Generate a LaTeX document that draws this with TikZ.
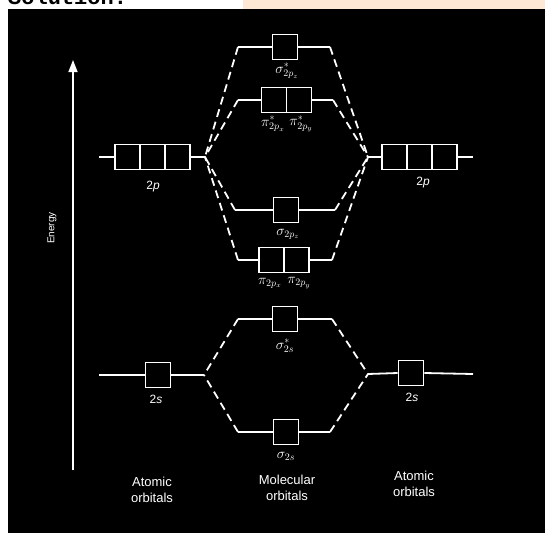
\documentclass[tikz,border=0pt]{standalone}
\usepackage{fontspec}
\setsansfont{Liberation Sans}
\newfontfamily\monob{Liberation Mono}
\usetikzlibrary{arrows.meta}
\definecolor{peach}{HTML}{FDE8D6}
\begin{document}
\begin{tikzpicture}[x=1pt,y=-1pt,
 lvl/.style={draw=white, line width=1.8pt},
 dsh/.style={draw=white, line width=1.8pt, dash pattern=on 8pt off 5pt},
 orb/.style={draw=white, line width=1.8pt, minimum width=25pt, minimum height=25pt, inner sep=0pt, fill=black},
 lab/.style={text=white, font=\fontsize{14}{16}\selectfont, inner sep=0pt},
 plab/.style={text=white, font=\sffamily\fontsize{12}{14}\selectfont, inner sep=0pt},
 big/.style={text=white, font=\sffamily\fontsize{13}{15.5}\selectfont, align=center, inner sep=0pt}]

\useasboundingbox (0,0) rectangle (545,533);
\fill[white] (0,0) rectangle (545,533);
\fill[peach] (243,0) rectangle (545,9);
\begin{scope}
\clip (0,0) rectangle (545,9);
\node[anchor=base west, text=black, font=\monob\bfseries\fontsize{22}{22}\selectfont, inner sep=0pt] (sol) at (8,4) {Solution:};
\end{scope}
\fill[black] (8,9) rectangle (545,533);

% Energy axis
\coordinate (ebot) at (73,470);
\coordinate (etop) at (73,60);
\draw[white, line width=1.6pt, -{Triangle[length=12pt,width=9pt]}] (ebot) -- (etop);
\node[text=white, font=\sffamily\fontsize{10}{12}\selectfont, rotate=90, inner sep=0pt] (energy) at (52,228) {Energy};

% Left 2p
\node[orb] (L2pa) at (127.5,157) {};
\node[orb] (L2pb) at (152.5,157) {};
\node[orb] (L2pc) at (177.5,157) {};
\coordinate (L2pw) at (99,157);
\coordinate (jL2p) at (205,157);
\draw[lvl] (L2pw) -- (L2pa.west);
\draw[lvl] (L2pc.east) -- (jL2p);
\node[plab] (t2pL) at (153,187) {2\textit{p}};

% Right 2p
\node[orb] (R2pa) at (394.5,157) {};
\node[orb] (R2pb) at (419.5,157) {};
\node[orb] (R2pc) at (444.5,157) {};
\coordinate (R2pe) at (473,157);
\coordinate (jR2p) at (368,157);
\draw[lvl] (jR2p) -- (R2pa.west);
\draw[lvl] (R2pc.east) -- (R2pe);
\node[plab] (t2pR) at (423,183) {2\textit{p}};

% sigma* 2pz
\node[orb] (sspz) at (285,47) {};
\coordinate (sspzL) at (238,47);
\coordinate (sspzR) at (330,47);
\draw[lvl] (sspzL) -- (sspz.west);
\draw[lvl] (sspz.east) -- (sspzR);
\node[lab] (tsspz) at (287,71) {$\sigma^{*}_{2p_z}$};

% pi* 2p
\node[orb] (pspx) at (274,100) {};
\node[orb] (pspy) at (299,100) {};
\coordinate (pspL) at (238,100);
\coordinate (pspR) at (333,100);
\draw[lvl] (pspL) -- (pspx.west);
\draw[lvl] (pspy.east) -- (pspR);
\node[lab] (tpspx) at (273,124) {$\pi^{*}_{2p_x}$};
\node[lab] (tpspy) at (301,124) {$\pi^{*}_{2p_y}$};

% sigma 2pz
\node[orb] (spz) at (286,210) {};
\coordinate (spzL) at (235,210);
\coordinate (spzR) at (335,210);
\draw[lvl] (spzL) -- (spz.west);
\draw[lvl] (spz.east) -- (spzR);
\node[lab] (tspz) at (288,234) {$\sigma_{2p_z}$};

% pi 2p
\node[orb] (ppx) at (271.5,260) {};
\node[orb] (ppy) at (296.5,260) {};
\coordinate (ppL) at (238,260);
\coordinate (ppR) at (332,260);
\draw[lvl] (ppL) -- (ppx.west);
\draw[lvl] (ppy.east) -- (ppR);
\node[lab] (tppx) at (270,283) {$\pi_{2p_x}$};
\node[lab] (tppy) at (299,283) {$\pi_{2p_y}$};

% sigma* 2s
\node[orb] (ss2s) at (285,319) {};
\coordinate (ss2sL) at (238,319);
\coordinate (ss2sR) at (332,319);
\draw[lvl] (ss2sL) -- (ss2s.west);
\draw[lvl] (ss2s.east) -- (ss2sR);
\node[lab] (tss2s) at (285,346) {$\sigma^{*}_{2s}$};

% sigma 2s
\node[orb] (s2s) at (286,432) {};
\coordinate (s2sL) at (238,432);
\coordinate (s2sR) at (330,432);
\draw[lvl] (s2sL) -- (s2s.west);
\draw[lvl] (s2s.east) -- (s2sR);
\node[lab] (ts2s) at (286,456) {$\sigma_{2s}$};

% Left 2s
\node[orb] (L2s) at (158,375) {};
\coordinate (L2sw) at (99,375);
\coordinate (jL2s) at (204,375);
\draw[lvl] (L2sw) -- (L2s.west);
\draw[lvl] (L2s.east) -- (jL2s);
\node[plab] (t2sL) at (156,399) {2\textit{s}};

% Right 2s
\node[orb] (R2s) at (411,373) {};
\coordinate (jR2s) at (368,374);
\coordinate (R2se) at (473,374);
\draw[lvl] (jR2s) -- (R2s.west);
\draw[lvl] (R2s.east) -- (R2se);
\node[plab] (t2sR) at (412,397) {2\textit{s}};

% dashed correlation lines
\foreach \e in {sspzL,pspL,spzL,ppL} \draw[dsh] (\e) -- (jL2p);
\foreach \e in {sspzR,pspR,spzR,ppR} \draw[dsh] (\e) -- (jR2p);
\foreach \e in {ss2sL,s2sL} \draw[dsh] (\e) -- (jL2s);
\foreach \e in {ss2sR,s2sR} \draw[dsh] (\e) -- (jR2s);

% bottom captions
\node[big] (cAL) at (152,490) {Atomic\\orbitals};
\node[big] (cM) at (287,488) {Molecular\\orbitals};
\node[big] (cAR) at (414,484) {Atomic\\orbitals};
\end{tikzpicture}
\end{document}
